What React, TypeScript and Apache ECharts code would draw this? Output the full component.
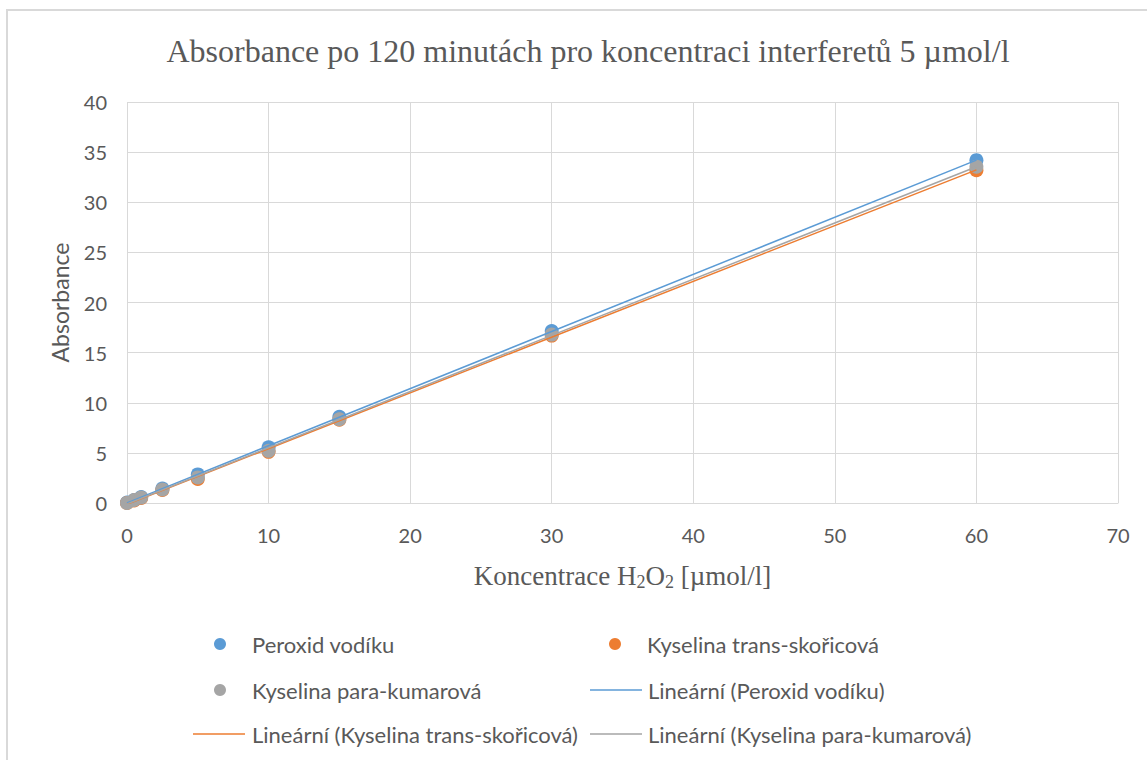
import React, { useEffect, useRef } from "react";
import * as echarts from "echarts";

const concentrations = [0, 0.5, 1, 2.5, 5, 10, 15, 30, 60];
const peroxid = [0.05, 0.3, 0.6, 1.45, 2.85, 5.55, 8.6, 17.15, 34.2];
const transSkoricova = [0.0, 0.25, 0.5, 1.3, 2.4, 5.1, 8.3, 16.7, 33.2];
const paraKumarova = [0.0, 0.3, 0.55, 1.35, 2.55, 5.2, 8.35, 16.8, 33.55];

const seriesNames = ["Peroxid vodíku", "Kyselina trans-skořicová", "Kyselina para-kumarová"];
const trendNames = [
  "Lineární (Peroxid vodíku)",
  "Lineární (Kyselina trans-skořicová)",
  "Lineární (Kyselina para-kumarová)",
];
const colors = ["#5B9BD5", "#ED7D31", "#A5A5A5"];
const trendRange = [0, 60];

function regression(xs: number[], ys: number[]) {
  const n = xs.length;
  const mx = xs.reduce((a, b) => a + b, 0) / n;
  const my = ys.reduce((a, b) => a + b, 0) / n;
  let sxy = 0;
  let sxx = 0;
  for (let i = 0; i < n; i++) {
    sxy += (xs[i] - mx) * (ys[i] - my);
    sxx += (xs[i] - mx) * (xs[i] - mx);
  }
  const a = sxy / sxx;
  const b = my - a * mx;
  return trendRange.map((x) => [x, a * x + b]);
}

const SANS = "Lato";
const SERIF = "Liberation Serif";
const TXT = "#595959";

export default function App() {
  const ref = useRef<HTMLDivElement>(null);
  useEffect(() => {
    document.body.style.margin = "0";
    const chart = echarts.init(ref.current!, null, { renderer: "svg" });
    const all = [peroxid, transSkoricova, paraKumarova];
    const legendText = { fontFamily: SANS, fontSize: 22, color: TXT };
    const dotLegend = (name: string, left: number, top: number) => ({
      data: [{ name, icon: "circle" }],
      left,
      top,
      itemWidth: 12,
      itemHeight: 12,
      padding: 0,
      textStyle: { ...legendText, padding: [0, 0, 0, 21] },
    });
    const lineLegend = (name: string, left: number, top: number, pad: number) => ({
      data: [{ name, icon: "rect" }],
      left,
      top,
      itemWidth: 52,
      itemHeight: 1.5,
      padding: 0,
      textStyle: { ...legendText, padding: [0, 0, 0, pad] },
    });
    chart.setOption({
      animation: false,
      backgroundColor: "#ffffff",
      title: {
        text: "Absorbance po 120 minutách pro koncentraci interferetů 5 µmol/l",
        left: 583,
        top: 30,
        textAlign: "center",
        textStyle: { fontFamily: SERIF, fontSize: 32, fontWeight: "normal", color: TXT },
      },
      graphic: [
        {
          type: "rect",
          shape: { x: 7, y: 10, width: 1300, height: 900 },
          style: { fill: "none", stroke: "#d9d9d9", lineWidth: 2 },
          silent: true,
          z: -1,
        },
      ],
      legend: [
        dotLegend(seriesNames[0], 214, 633),
        dotLegend(seriesNames[1], 609, 633),
        dotLegend(seriesNames[2], 214, 679),
        lineLegend(trendNames[0], 590, 679, 1),
        lineLegend(trendNames[1], 193, 723, 2),
        lineLegend(trendNames[2], 590, 723, 1),
      ],
      grid: { left: 127, right: 29, top: 102, bottom: 257 },
      xAxis: {
        type: "value",
        min: 0,
        max: 70,
        interval: 10,
        name: "Koncentrace H{sub|2}O{sub|2} [µmol/l]",
        nameLocation: "middle",
        nameGap: 57,
        nameTextStyle: {
          fontFamily: SERIF,
          fontSize: 27,
          color: TXT,
          rich: {
            sub: { fontFamily: SERIF, fontSize: 18, color: TXT, padding: [13, 0, 0, 0] },
          },
        },
        axisLine: { lineStyle: { color: "#d9d9d9" } },
        axisTick: { show: false },
        axisLabel: { fontFamily: SANS, fontSize: 20, color: TXT, margin: 22 },
        splitLine: { lineStyle: { color: "#d9d9d9" } },
      },
      yAxis: {
        type: "value",
        min: 0,
        max: 40,
        interval: 5,
        name: "Absorbance",
        nameLocation: "middle",
        nameGap: 56,
        nameTextStyle: { fontFamily: SANS, fontSize: 23, color: TXT },
        axisLine: { show: false },
        axisTick: { show: false },
        axisLabel: { fontFamily: SANS, fontSize: 20, color: TXT, margin: 20 },
        splitLine: { lineStyle: { color: "#d9d9d9" } },
      },
      series: [
        ...all.map((ys, i) => ({
          name: seriesNames[i],
          type: "scatter",
          symbol: "circle",
          symbolSize: 14,
          itemStyle: { color: colors[i], opacity: 1 },
          data: concentrations.map((x, j) => [x, ys[j]]),
          z: 2,
        })),
        ...all.map((ys, i) => ({
          name: trendNames[i],
          type: "line",
          symbol: "none",
          lineStyle: { color: colors[i], width: 1.5 },
          itemStyle: { color: colors[i] },
          data: regression(concentrations, ys),
          z: 3,
        })),
      ],
    });
    return () => chart.dispose();
  }, []);
  return (
    <div
      ref={ref}
      style={{ position: "absolute", left: 0, top: 0, width: 1147, height: 760 }}
    />
  );
}
